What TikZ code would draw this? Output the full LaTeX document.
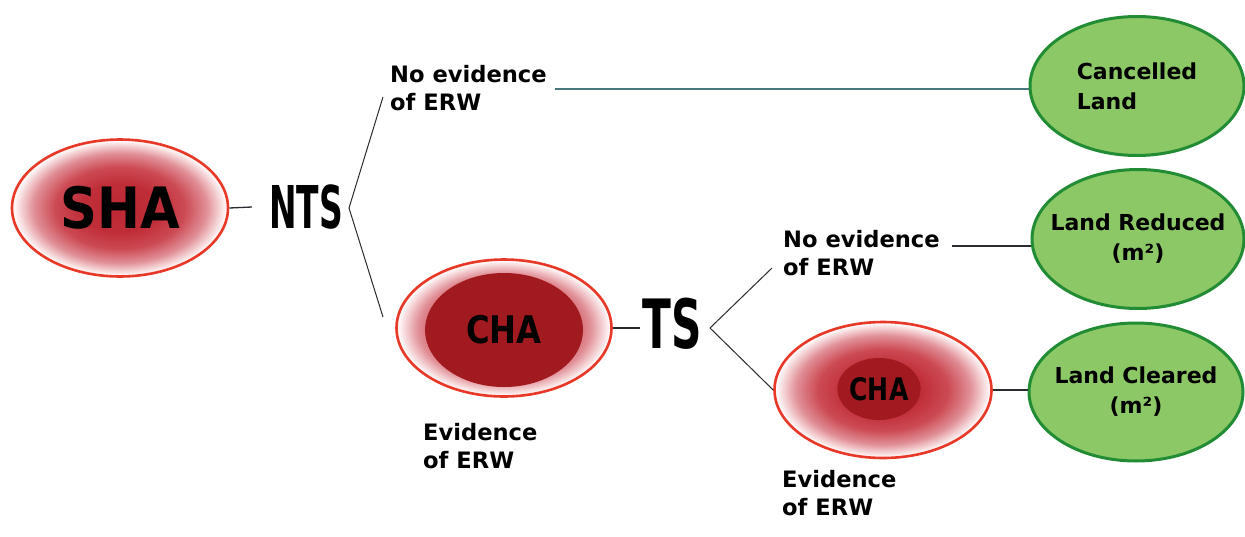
\documentclass[tikz,border=0pt]{standalone}
\usepackage{fontspec}
\setmainfont{DejaVu Sans}
\newfontfamily\condbold{DejaVu Sans Condensed}[BoldFont={DejaVu Sans Condensed Bold}]
\usetikzlibrary{shapes.geometric}
\definecolor{redline}{RGB}{232,56,40}
\definecolor{darkcore}{RGB}{160,26,31}
\definecolor{greenfill}{RGB}{140,200,102}
\definecolor{greenline}{RGB}{34,140,52}
\definecolor{tealline}{RGB}{72,120,124}
\definecolor{linegray}{RGB}{40,44,48}
\pgfdeclareradialshading{redglow}{\pgfpoint{0bp}{0bp}}{rgb(0bp)=(0.74,0.16,0.20); rgb(9bp)=(0.75,0.18,0.22); rgb(15bp)=(0.80,0.29,0.33); rgb(20bp)=(0.88,0.56,0.59); rgb(24.5bp)=(1,0.97,0.97); rgb(50bp)=(1,1,1)}
\tikzset{
  x=1pt, y=-1pt,
  redell/.style={ellipse, draw=redline, line width=2.6pt, shading=redglow, inner sep=0pt},
  coreell/.style={ellipse, fill=darkcore, draw=none, inner sep=0pt},
  greenell/.style={ellipse, draw=greenline, line width=3pt, fill=greenfill, inner ysep=0pt, inner xsep=-20pt,
    font=\bfseries\fontsize{22}{30}\selectfont},
  lbl/.style={font=\bfseries\fontsize{22.6}{28}\selectfont, align=left, inner sep=0pt, anchor=north west},
  big/.style={font=\condbold\bfseries, inner sep=0pt, anchor=base},
  conn/.style={draw=linegray, line width=1.3pt}
}
\begin{document}
\begin{tikzpicture}
\useasboundingbox (0,0) rectangle (1245,536);
% ellipses
\node[redell, minimum width=216, minimum height=137, font=\condbold\bfseries\fontsize{57}{57}\selectfont] (sha) at (120,208) {SHA};
\node[redell, minimum width=215, minimum height=137] (cha1) at (504,328) {};
\node[coreell, minimum width=158, minimum height=114, font=\condbold\bfseries\fontsize{38}{38}\selectfont] (cha1core) at (504,330) {\scalebox{0.94}[1]{CHA}};
\node[redell, minimum width=217, minimum height=136] (cha2) at (883,390) {};
\node[coreell, minimum width=78, minimum height=62, font=\condbold\bfseries\fontsize{31}{31}\selectfont] (cha2core) at (879,389) {\scalebox{0.9}[1]{CHA}};
\node[greenell, minimum width=214, minimum height=139, align=left] (cancel) at (1137,86) {Cancelled\\Land};
\node[greenell, minimum width=212, minimum height=139, align=center] (reduced) at (1138,239) {Land Reduced\\(m²)};
\node[greenell, minimum width=214, minimum height=138, align=center] (cleared) at (1136,392) {Land Cleared\\(m²)};
% big labels
\node[big, font=\condbold\bfseries\fontsize{59}{59}\selectfont] (nts) at (306,228) {\scalebox{0.62}[1]{NTS}};
\node[big, font=\condbold\bfseries\fontsize{68}{68}\selectfont] (ts) at (672,348) {\scalebox{0.69}[1]{TS}};
% small labels
\node[lbl] (ne1) at (390,65) {No evidence\\of ERW};
\node[lbl] (ne2) at (783,230) {No evidence\\of ERW};
\node[lbl] (ev1) at (423,423) {Evidence\\of ERW};
\node[lbl] (ev2) at (782,470) {Evidence\\of ERW};
% connector ends
\coordinate (ntsL) at (252,207);
\coordinate (ntsR) at (349,208);
\coordinate (ntsUp) at (383,97);
\coordinate (ntsDown) at (383,317);
\coordinate (ne1end) at (555,89);
\coordinate (tsL) at (640,328);
\coordinate (tsR) at (710,328);
\coordinate (tsUp) at (772,268);
\coordinate (ne2end) at (952,246);
% connectors
\draw[conn] (sha.east) -- (ntsL);
\draw[conn, line width=1pt] (ntsUp) -- (ntsR) -- (ntsDown);
\draw[draw=tealline, line width=1.3pt] (ne1end) -- (ne1end -| cancel.west);
\draw[conn] (cha1.east) -- (tsL);
\draw[conn, line width=1pt] (tsUp) -- (tsR) -- (cha2.west);
\draw[conn] (ne2end) -- (ne2end -| reduced.west);
\draw[conn] (cha2.east) -- (cha2.east -| cleared.west);
\end{tikzpicture}
\end{document}
